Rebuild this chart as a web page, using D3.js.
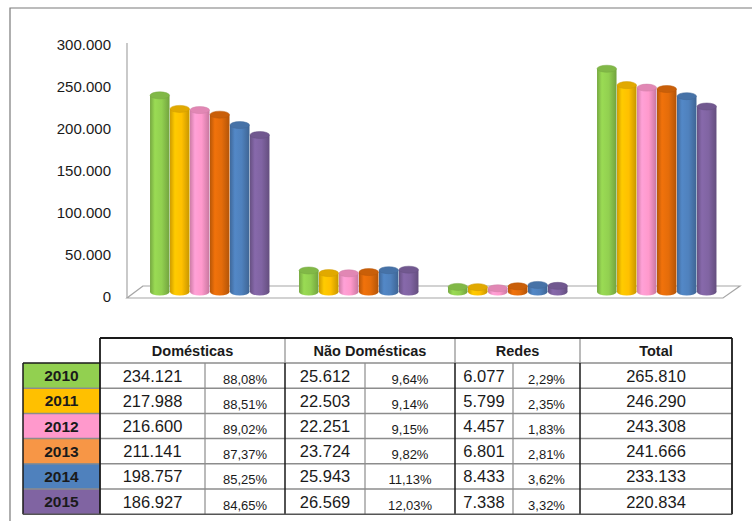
<!DOCTYPE html>
<html><head><meta charset="utf-8">
<script src="https://cdn.jsdelivr.net/npm/d3@7"></script>
<style>
html,body{margin:0;padding:0;background:#fff;}
svg{display:block;}
text{font-family:"Liberation Sans",Arial,sans-serif;fill:#1a1a1a;}
</style></head>
<body>
<script>
// ---- data ----
const years = ["2010","2011","2012","2013","2014","2015"];
const categories = ["Domésticas","Não Domésticas","Redes","Total"];
const domesticas = [234121,217988,216600,211141,198757,186927];
const domesticasPct = ["88,08%","88,51%","89,02%","87,37%","85,25%","84,65%"];
const naoDomesticas = [25612,22503,22251,23724,25943,26569];
const naoDomesticasPct = ["9,64%","9,14%","9,15%","9,82%","11,13%","12,03%"];
const redes = [6077,5799,4457,6801,8433,7338];
const redesPct = ["2,29%","2,35%","1,83%","2,81%","3,62%","3,32%"];
const total = [265810,246290,243308,241666,233133,220834];
const yTicks = [0,50000,100000,150000,200000,250000,300000];

const barColors = ["#92D050","#FFC000","#FF99CC","#E46C0A","#4F81BD","#8064A2"];
const yearFill = ["#92D050","#FFC000","#FF99CC","#F79646","#4F81BD","#8064A2"];

const W = 752, H = 521;
const loc = d3.formatLocale({decimal:",",thousands:".",grouping:[3],currency:["",""]});
const fmt = loc.format(",d");

const svg = d3.select("body").append("svg").attr("width",W).attr("height",H);
const defs = svg.append("defs");

// frame
svg.append("path").attr("d","M10,521 L10,8 L752,8").attr("fill","none").attr("stroke","#7a7a7a").attr("stroke-width",1.2);

// scales
const yAxisScale = d3.scaleLinear().domain([0,300000]).range([297,45]);
const yBar = d3.scaleLinear().domain([0,300000]).range([292,40]);
const x0 = d3.scaleBand().domain(categories).range([135.5,731.5]).paddingInner(0.195).paddingOuter(0.0975);
const x1 = d3.scaleBand().domain(years).range([0,x0.bandwidth()]);

// floor & axis line
const g = svg.append("g");
g.append("path").attr("d","M143,286 L127,298 L723,298 L740,286 Z").attr("fill","#fff").attr("stroke","#a6a6a6").attr("stroke-width",1.2);
g.append("line").attr("x1",127).attr("x2",127).attr("y1",43).attr("y2",298).attr("stroke","#a6a6a6").attr("stroke-width",1.2);

// axis labels
const ax = g.append("g").attr("transform","translate(111,0)")
  .call(d3.axisLeft(yAxisScale).tickValues(yTicks).tickSize(0).tickPadding(0).tickFormat(fmt));
ax.select(".domain").remove();
ax.selectAll("text").attr("font-family","Liberation Sans, Arial, sans-serif").attr("font-size",15).attr("fill","#1a1a1a");

// gradients
barColors.forEach((c,i)=>{
  const base = d3.color(c);
  const gr = defs.append("linearGradient").attr("id","grad"+i).attr("x1","0").attr("x2","1").attr("y1","0").attr("y2","0");
  gr.append("stop").attr("offset","0%").attr("stop-color",base.darker(0.6));
  gr.append("stop").attr("offset","25%").attr("stop-color",base.brighter(0.15));
  gr.append("stop").attr("offset","60%").attr("stop-color",base);
  gr.append("stop").attr("offset","100%").attr("stop-color",base.darker(0.7));
});

const series = [domesticas, naoDomesticas, redes, total];
const ry = 3.5;
categories.forEach((cat,ci)=>{
  const gg = g.append("g").attr("transform",`translate(${x0(cat)},0)`);
  years.forEach((yr,yi)=>{
    const v = series[ci][yi];
    const bx = x1(yr), bw = x1.bandwidth()-0.5;
    const top = yBar(v), bot = yBar(0);
    const cg = gg.append("g");
    cg.append("ellipse").attr("cx",bx+bw/2).attr("cy",bot).attr("rx",bw/2).attr("ry",ry).attr("fill",`url(#grad${yi})`);
    cg.append("rect").attr("x",bx).attr("y",top).attr("width",bw).attr("height",bot-top).attr("fill",`url(#grad${yi})`);
    cg.append("ellipse").attr("cx",bx+bw/2).attr("cy",top).attr("rx",bw/2).attr("ry",ry)
      .attr("fill",d3.color(barColors[yi]).darker(0.35)).attr("stroke",d3.color(barColors[yi]).darker(0.6)).attr("stroke-width",0.5);
  });
});

// ---- table ----
const tg = svg.append("g");
const cols = [23,100,205,285,365,455,513,580,732];
const headTop = 338, headBot = 363, rowH = 25.2;
const rowY = i => headBot + i*rowH;
const tableBot = rowY(years.length);
const dark = "#1a1a1a", grey = "#8c8c8c";

// year cells
years.forEach((yr,i)=>{
  tg.append("rect").attr("x",cols[0]).attr("y",rowY(i)).attr("width",cols[1]-cols[0]).attr("height",rowH).attr("fill",yearFill[i]);
  tg.append("text").attr("x",(cols[0]+cols[1])/2).attr("y",rowY(i)+rowH/2+5.5).attr("text-anchor","middle")
    .attr("font-weight","bold").attr("font-size",15.5).text(yr);
});
// header
const headers = [[cols[1],cols[3]],[cols[3],cols[5]],[cols[5],cols[7]],[cols[7],cols[8]]];
headers.forEach((h,i)=>{
  tg.append("text").attr("x",(h[0]+h[1])/2).attr("y",headTop+18).attr("text-anchor","middle")
    .attr("font-weight","bold").attr("font-size",14.5).text(categories[i]);
});
// values
const valueCols = [
  {vals:domesticas, pct:domesticasPct, c:[1,2,3]},
  {vals:naoDomesticas, pct:naoDomesticasPct, c:[3,4,5]},
  {vals:redes, pct:redesPct, c:[5,6,7]}
];
years.forEach((yr,i)=>{
  valueCols.forEach(vc=>{
    tg.append("text").attr("x",(cols[vc.c[0]]+cols[vc.c[1]])/2).attr("y",rowY(i)+rowH/2+6).attr("text-anchor","middle")
      .attr("font-size",16.5).text(fmt(vc.vals[i]));
    tg.append("text").attr("x",(cols[vc.c[1]]+cols[vc.c[2]])/2).attr("y",rowY(i)+rowH/2+8).attr("text-anchor","middle")
      .attr("font-size",13).text(vc.pct[i]);
  });
  tg.append("text").attr("x",(cols[7]+cols[8])/2).attr("y",rowY(i)+rowH/2+6).attr("text-anchor","middle")
    .attr("font-size",16.5).text(fmt(total[i]));
});
// grid lines
function ln(x1,y1,x2,y2,c,w){tg.append("line").attr("x1",x1).attr("y1",y1).attr("x2",x2).attr("y2",y2).attr("stroke",c).attr("stroke-width",w);}
for(let i=1;i<years.length;i++){ ln(cols[0],rowY(i),cols[8],rowY(i),grey,1.5); }
ln(cols[1],headBot,cols[8],headBot,grey,1.5);
[2,4,6].forEach(c=>ln(cols[c],headBot,cols[c],tableBot,grey,1.2));
[3,5,7].forEach(c=>ln(cols[c],headTop,cols[c],headBot,grey,1.2));
[3,5,7].forEach(c=>ln(cols[c],headBot,cols[c],tableBot,dark,1.5));
ln(cols[1],headTop,cols[8],headTop,dark,1.8);
ln(cols[1],headTop,cols[1],tableBot,dark,1.8);
ln(cols[8],headTop,cols[8],tableBot,dark,1.8);
ln(cols[0],headBot,cols[0],tableBot,dark,1.5);
ln(cols[0],headBot,cols[1],headBot,dark,1.5);
ln(cols[0],tableBot,cols[8],tableBot,"#555",1.5);
</script>
</body></html>
